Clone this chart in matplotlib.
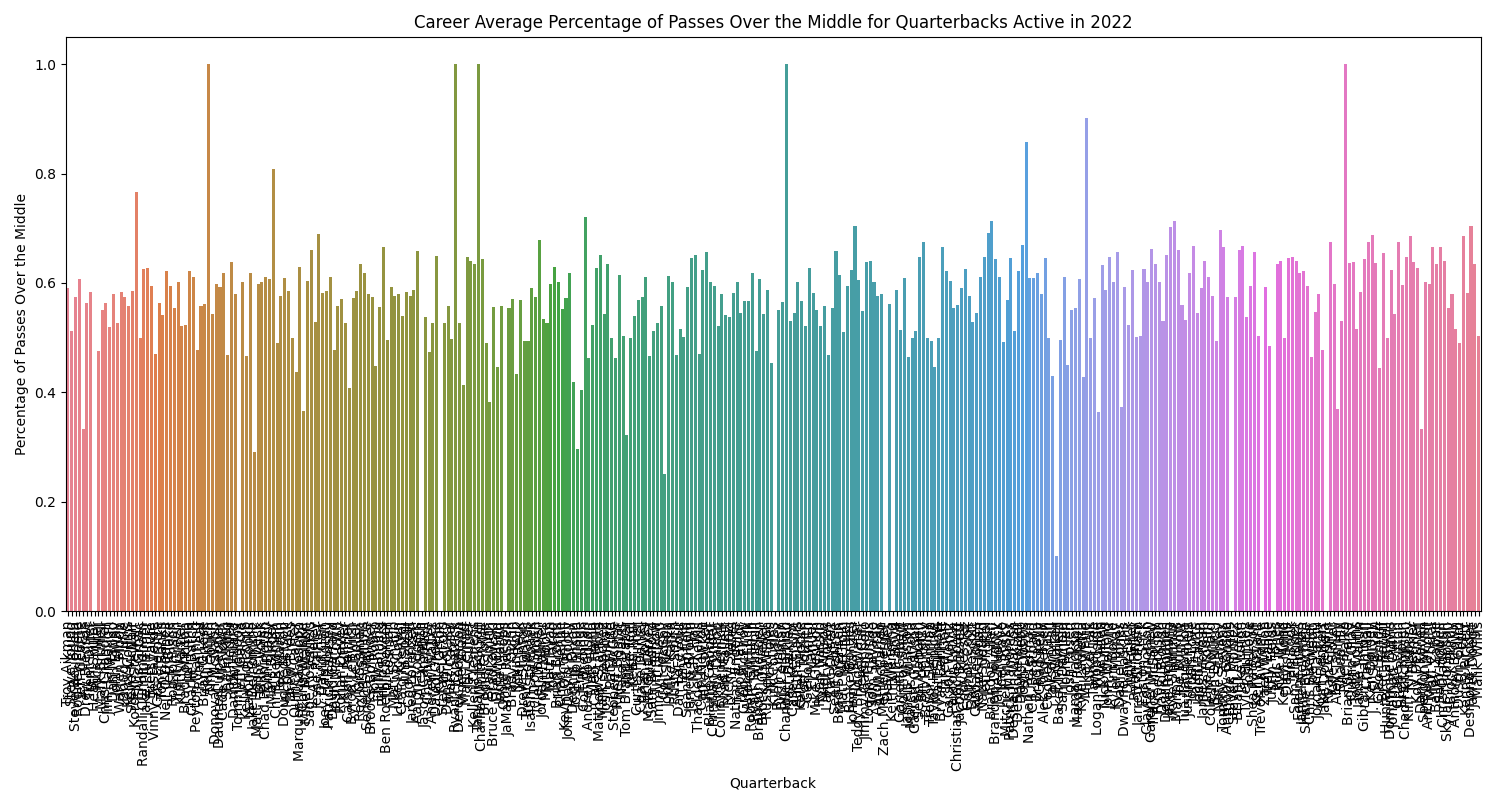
import numpy as np
import matplotlib
matplotlib.use("Agg")
import matplotlib.pyplot as plt
import seaborn as sns

nan = np.nan

# quarterback names, in the order of the chart
quarterbacks = [
    "Troy Aikman", "Steve Young", "Steve Beuerlein", "Rodney Peete", "Jeff George", "Drew Bledsoe", "Trent Dilfer", "Heath Shuler", "Rick Mirer", "Mark Brunell",
    "Chris Chandler", "Jim Harbaugh", "Dan Marino", "John Elway", "Warren Moon", "Doug Flutie", "Kerry Collins", "Steve McNair", "Kordell Stewart", "Elvis Grbac",
    "Randall Cunningham", "Jake Plummer", "Brett Favre", "Vinny Testaverde", "Gus Frerotte", "Tony Banks", "Neil O'Donnell", "Jeff Blake", "Rob Johnson", "Trent Green",
    "Kurt Warner", "Brad Johnson", "Jon Kitna", "Charlie Batch", "Peyton Manning", "Ryan Leaf", "Brian Griese", "Akili Smith", "Tim Couch", "Donovan McNabb",
    "Daunte Culpepper", "Cade McNown", "Shaun King", "Jay Fiedler", "Damon Huard", "Tommy Maddox", "Jeff Garcia", "Kelly Holcomb", "Aaron Brooks", "Jake Delhomme",
    "Matt Hasselbeck", "Billy Volek", "Chad Pennington", "Tom Brady", "Marc Bulger", "Chris Redman", "Tee Martin", "Doug Pederson", "Michael Vick", "Drew Brees",
    "Quincy Carter", "Marques Tuiasosopo", "Chris Weinke", "Mike McMahon", "Sage Rosenfels", "A.J. Feeley", "Jesse Palmer", "David Carr", "Joey Harrington", "Patrick Ramsey",
    "David Garrard", "Josh McCown", "Rohan Davey", "Kurt Kittner", "Carson Palmer", "Byron Leftwich", "Kyle Boller", "Rex Grossman", "Chris Simms", "Seneca Wallace",
    "Brooks Bollinger", "Tony Romo", "Eli Manning", "Philip Rivers", "Ben Roethlisberger", "J.P. Losman", "Matt Schaub", "Luke McCown", "Craig Krenzel", "Jim Sorgi",
    "Cody Pickett", "Jared Lorenzen", "Aaron Rodgers", "Alex Smith", "Jason Campbell", "Charlie Frye", "Andrew Walter", "David Greene", "Kyle Orton", "Stefan LeFors",
    "Dan Orlovsky", "Matt Cassel", "Ryan Fitzpatrick", "Derek Anderson", "Vince Young", "Matt Leinart", "Jay Cutler", "Kellen Clemens", "Tarvaris Jackson", "Charlie Whitehurst",
    "Brodie Croyle", "Brad Smith", "Bruce Gradkowski", "Drew Olson", "Ingle Martin", "Omar Jacobs", "JaMarcus Russell", "Brady Quinn", "Kevin Kolb", "John Beck",
    "Drew Stanton", "Trent Edwards", "Isaiah Stanback", "Troy Smith", "Tyler Thigpen", "Jordan Palmer", "Matt Moore", "Matt Ryan", "Joe Flacco", "Brian Brohm",
    "Chad Henne", "Kevin O'Connell", "John David Booty", "Dennis Dixon", "Josh Johnson", "Erik Ainge", "Colt Brennan", "Andre Woodson", "Matt Flynn", "Caleb Hanie",
    "Matthew Stafford", "Mark Sanchez", "Josh Freeman", "Pat White", "Stephen McGee", "Rhett Bomar", "Nate Davis", "Tom Brandstater", "Mike Teel", "Keith Null",
    "Curtis Painter", "Chase Daniel", "Brian Hoyer", "Matt Gutierrez", "Sam Bradford", "Tim Tebow", "Jimmy Clausen", "Colt McCoy", "John Skelton", "Mike Kafka",
    "Rusty Smith", "Dan LeFevour", "Tony Pike", "Sean Canfield", "Jarrett Brown", "Max Hall", "Thaddeus Lewis", "Cam Newton", "Jake Locker", "Blaine Gabbert",
    "Christian Ponder", "Andy Dalton", "Colin Kaepernick", "Ryan Mallett", "Ricky Stanzi", "T.J. Yates", "Nathan Enderle", "Tyrod Taylor", "Greg McElroy", "Andrew Luck",
    "Robert Griffin III", "Ryan Tannehill", "Brandon Weeden", "Brock Osweiler", "Russell Wilson", "Nick Foles", "Kirk Cousins", "Ryan Lindley", "B.J. Coleman", "Chandler Harnish",
    "Matt Barkley", "Case Keenum", "Austin Davis", "Kellen Moore", "Scott Tolzien", "Geno Smith", "EJ Manuel", "Mike Glennon", "Ryan Nassib", "Tyler Wilson",
    "Landry Jones", "Zac Dysert", "Sean Renfree", "Brad Sorensen", "Matt McGloin", "Jeff Tuel", "Blake Bortles", "Johnny Manziel", "Teddy Bridgewater", "Derek Carr",
    "Jimmy Garoppolo", "Logan Thomas", "Tom Savage", "Aaron Murray", "AJ McCarron", "Zach Mettenberger", "David Fales", "Keith Wenning", "Tajh Boyd", "Garrett Gilbert",
    "Connor Shaw", "Jameis Winston", "Marcus Mariota", "Garrett Grayson", "Sean Mannion", "Bryce Petty", "Brett Hundley", "Trevor Siemian", "Taylor Heinicke", "Matt Simms",
    "Bryan Bennett", "Jared Goff", "Carson Wentz", "Paxton Lynch", "Christian Hackenberg", "Jacoby Brissett", "Cody Kessler", "Connor Cook", "Dak Prescott", "Cardale Jones",
    "Kevin Hogan", "Nate Sudfeld", "Jeff Driskel", "Brandon Allen", "Brandon Doughty", "Jake Rudock", "Joel Stave", "Mitchell Trubisky", "Patrick Mahomes", "Deshaun Watson",
    "DeShone Kizer", "Davis Webb", "Josh Dobbs", "Nathan Peterman", "C.J. Beathard", "Brad Kaaya", "Chad Kelly", "Alek Torgersen", "Cooper Rush", "Taysom Hill",
    "P.J. Walker", "Baker Mayfield", "Sam Darnold", "Josh Allen", "Josh Rosen", "Lamar Jackson", "Mason Rudolph", "Kyle Lauletta", "Mike White", "Luke Falk",
    "Tanner Lee", "Logan Woodside", "Kyle Allen", "Nick Mullens", "John Wolford", "Tim Boyle", "Kyler Murray", "Daniel Jones", "Dwayne Haskins", "Drew Lock",
    "Will Grier", "Ryan Finley", "Jarrett Stidham", "Easton Stick", "Clayton Thorson", "Gardner Minshew", "Trace McSorley", "Tyree Jackson", "David Blough", "Devlin Hodges",
    "Jake Browning", "Kyle Shurmur", "Manny Wilkins", "Joe Burrow", "Tua Tagovailoa", "Justin Herbert", "Jordan Love", "Jalen Hurts", "Jacob Eason", "James Morgan",
    "Jake Fromm", "Cole McDonald", "Ben DiNucci", "Nate Stanley", "Tommy Stevens", "Anthony Gordon", "Bryce Perkins", "Steven Montez", "Brian Lewerke", "Jake Luton",
    "Tyler Huntley", "Josh Love", "Shea Patterson", "Kelly Bryant", "Trevor Lawrence", "Zach Wilson", "Trey Lance", "Justin Fields", "Mac Jones", "Kyle Trask",
    "Kellen Mond", "Davis Mills", "Ian Book", "Sam Ehlinger", "Feleipe Franks", "Jamie Newman", "Shane Buechele", "Chris Streveler", "Joe Webb", "Jordan Ta'amu",
    "Kurt Benkert", "Jake Dolegala", "Ryan Griffin", "Kyle Sloter", "Alex Tanney", "Shaun Hill", "Tyler Palko", "Brian St. Pierre", "Quinn Gray", "Todd Collins",
    "Jamie Martin", "Gibran Hamdan", "Craig Nall", "Ken Dorsey", "J.T. O'Sullivan", "Cleo Lemon", "Brett Ratliff", "Hunter Cantwell", "Dominique Davis", "Jonathan Quinn",
    "Chase Litton", "Brett Rypien", "Chad Hutchinson", "Kliff Kingsbury", "Ty Detmer", "Koy Detmer", "Danny Kanell", "Spergon Wynn", "Anthony Wright", "Matt Corral",
    "Bailey Zappe", "Sam Howell", "Chris Oladokun", "Skylar Thompson", "Brock Purdy", "Anthony Brown", "Dustin Crum", "E.J. Perry", "Kenny Pickett", "Desmond Ridder",
    "Jarret Doege", "Malik Willis",
]

# career average share of passes over the middle (nan = no bar)
middle_pct = [
    0.590, 0.512, 0.575, 0.608, 0.333, 0.564, 0.584, nan, 0.476, 0.551,
    0.564, 0.520, 0.580, 0.526, 0.584, 0.575, 0.558, 0.586, 0.767, 0.500,
    0.626, 0.628, 0.595, 0.471, 0.564, 0.542, 0.622, 0.595, 0.555, 0.601,
    0.522, 0.524, 0.622, 0.611, 0.478, 0.558, 0.562, 1.000, 0.544, 0.599,
    0.592, 0.619, 0.469, 0.639, 0.580, nan, 0.601, 0.467, 0.619, 0.291,
    0.599, 0.602, 0.611, 0.608, 0.808, 0.491, 0.577, 0.610, 0.586, 0.500,
    0.437, 0.630, 0.366, 0.604, 0.661, 0.529, 0.690, 0.582, 0.586, 0.611,
    0.478, 0.558, 0.571, 0.526, 0.408, 0.573, 0.586, 0.634, 0.619, 0.580,
    0.575, 0.448, 0.556, 0.666, 0.496, 0.592, 0.577, 0.580, 0.540, 0.584,
    0.577, 0.588, 0.659, nan, 0.537, 0.473, 0.527, 0.650, nan, 0.527,
    0.558, 0.498, 1.000, 0.527, 0.414, 0.648, 0.641, 0.634, 1.000, 0.643,
    0.491, 0.382, 0.556, 0.446, 0.558, nan, 0.555, 0.571, 0.434, 0.569,
    0.494, 0.494, 0.590, 0.575, 0.679, 0.535, 0.527, 0.599, 0.630, 0.602,
    0.553, 0.573, 0.619, 0.419, 0.296, 0.404, 0.721, 0.463, 0.524, 0.628,
    0.652, 0.544, 0.635, 0.500, 0.463, 0.615, 0.503, 0.322, 0.500, 0.540,
    0.569, 0.575, 0.611, 0.467, 0.512, 0.526, 0.558, 0.250, 0.613, 0.601,
    0.469, 0.516, 0.501, 0.593, 0.645, 0.652, 0.471, 0.624, 0.657, 0.602,
    0.595, 0.522, 0.579, 0.542, 0.537, 0.582, 0.602, 0.546, 0.567, 0.567,
    0.619, 0.476, 0.608, 0.544, 0.588, 0.454, nan, 0.551, 0.565, 1.000,
    0.531, 0.546, 0.602, 0.567, 0.522, 0.628, 0.582, 0.551, 0.522, 0.558,
    0.469, 0.555, 0.659, 0.615, 0.510, 0.595, 0.624, 0.705, 0.606, 0.549,
    0.639, 0.641, 0.601, 0.577, 0.580, nan, 0.562, nan, 0.588, 0.514,
    0.610, 0.465, 0.500, 0.512, 0.647, 0.675, 0.500, 0.494, 0.446, 0.500,
    0.666, 0.622, 0.604, 0.555, 0.560, 0.590, 0.626, 0.577, 0.529, 0.546,
    0.611, 0.648, 0.692, 0.714, 0.643, 0.611, 0.492, 0.569, 0.645, 0.512,
    0.622, 0.670, 0.857, 0.610, 0.610, 0.619, 0.580, 0.645, 0.500, 0.430,
    0.100, 0.496, 0.611, 0.450, 0.551, 0.555, 0.608, 0.428, 0.901, 0.500,
    0.573, 0.364, 0.632, 0.588, 0.648, 0.601, 0.656, 0.373, 0.592, 0.524,
    0.624, 0.501, 0.503, 0.626, 0.602, 0.663, 0.634, 0.601, 0.531, 0.652,
    0.703, 0.714, 0.661, 0.560, 0.533, 0.619, 0.668, 0.546, 0.590, 0.641,
    0.611, 0.577, 0.494, 0.696, 0.666, 0.575, nan, 0.575, 0.661, 0.668,
    0.537, 0.595, 0.657, 0.503, nan, 0.592, 0.485, nan, 0.634, 0.641,
    0.500, 0.645, 0.648, 0.641, 0.619, 0.622, 0.595, 0.465, 0.547, 0.579,
    0.478, nan, 0.675, 0.599, 0.370, 0.531, 1.000, 0.637, 0.639, 0.516,
    0.584, 0.643, 0.674, 0.688, 0.637, 0.445, 0.654, 0.500, 0.624, 0.544,
    0.674, 0.597, 0.647, 0.685, 0.639, 0.628, 0.333, 0.601, 0.599, 0.666,
    0.635, 0.666, 0.641, 0.555, 0.579, 0.516, 0.491, 0.685, 0.582, 0.705,
    0.634, 0.503,
]

n = len(quarterbacks)
assert n == len(middle_pct), (n, len(middle_pct))

# seaborn-style husl palette, desaturated like barplot does
colors = [sns.desaturate(c, 0.75) for c in sns.husl_palette(n)]

fig, ax = plt.subplots(figsize=(15, 8), dpi=100)
x = np.arange(n)
ax.bar(x, middle_pct, width=0.8, color=colors)

ax.set_xlim(-0.5, n - 0.5)
ax.set_xticks(x)
ax.set_xticklabels(quarterbacks, rotation=90)
ax.set_xlabel("Quarterback")
ax.set_ylabel("Percentage of Passes Over the Middle")
ax.set_title("Career Average Percentage of Passes Over the Middle for Quarterbacks Active in 2022")

fig.subplots_adjust(left=0.044, right=0.987, top=0.954, bottom=0.236)
fig.savefig("out.png")
